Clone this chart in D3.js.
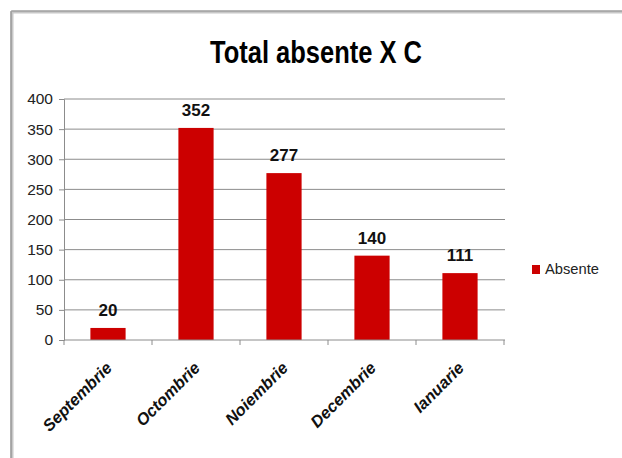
<!DOCTYPE html>
<html><head><meta charset="utf-8">
<script src="https://cdn.jsdelivr.net/npm/d3@7"></script>
<style>body{margin:0;background:#fff}svg{display:block}</style>
</head><body>
<script>
const categories = ["Septembrie","Octombrie","Noiembrie","Decembrie","Ianuarie"];
const values = [20,352,277,140,111];
const yTicks = [0,50,100,150,200,250,300,350,400];
const seriesName = "Absente";
const titleText = "Total absente X C";

const W = 622, H = 458;
const svg = d3.select("body").append("svg").attr("width", W).attr("height", H);

// frame
svg.append("line").attr("x1",12).attr("x2",W).attr("y1",12).attr("y2",12).attr("stroke","#c8c8c8").attr("stroke-width",3);
svg.append("line").attr("x1",12).attr("x2",12).attr("y1",12).attr("y2",H).attr("stroke","#c8c8c8").attr("stroke-width",3);
svg.append("line").attr("x1",11).attr("x2",W).attr("y1",11).attr("y2",11).attr("stroke","#8a8a8a").attr("stroke-width",1.2);
svg.append("line").attr("x1",11).attr("x2",11).attr("y1",11).attr("y2",H).attr("stroke","#8a8a8a").attr("stroke-width",1.2);

const x = d3.scaleBand().domain(categories).range([64,504]).paddingInner(0.6).paddingOuter(0.3);
const y = d3.scaleLinear().domain([0,400]).range([340,99]);

// gridlines
svg.append("g").selectAll("line").data(yTicks.filter(d=>d>0)).join("line")
  .attr("x1",64).attr("x2",505).attr("y1",d=>y(d)).attr("y2",d=>y(d))
  .attr("stroke","#8c8c8c").attr("stroke-width",1);

// bars
svg.append("g").selectAll("rect").data(values).join("rect")
  .attr("x",(d,i)=>x(categories[i])).attr("width",x.bandwidth())
  .attr("y",d=>y(d)).attr("height",d=>y(0)-y(d))
  .attr("fill","#cc0000");

// y axis
const yAxis = d3.axisLeft(y).tickValues(yTicks).tickSize(5).tickPadding(6);
const gy = svg.append("g").attr("transform","translate(64,0)").call(yAxis);
gy.select(".domain").attr("stroke","#8c8c8c");
gy.selectAll(".tick line").attr("stroke","#8c8c8c");
gy.selectAll("text").attr("font-family","Liberation Sans, Arial, sans-serif")
  .attr("font-size",15.5).attr("fill","#222");

// x axis
const xOuter = d3.scalePoint().domain(d3.range(categories.length+1)).range([64,504]);
svg.append("line").attr("x1",64).attr("x2",505).attr("y1",340).attr("y2",340).attr("stroke","#8c8c8c");
svg.append("g").selectAll("line").data(d3.range(categories.length+1)).join("line")
  .attr("x1",d=>xOuter(d)).attr("x2",d=>xOuter(d)).attr("y1",340).attr("y2",345).attr("stroke","#8c8c8c");

svg.append("g").selectAll("text").data(categories).join("text")
  .attr("transform",d=>`translate(${x(d)+x.bandwidth()/2+5},${369}) rotate(-45)`)
  .attr("text-anchor","end")
  .attr("font-family","Liberation Sans, Arial, sans-serif")
  .attr("font-weight","bold").attr("font-style","italic")
  .attr("font-size",16.5).attr("fill","#111")
  .text(d=>d);

// data labels
svg.append("g").selectAll("text").data(values).join("text")
  .attr("x",(d,i)=>x(categories[i])+x.bandwidth()/2)
  .attr("y",d=>y(d)-12)
  .attr("text-anchor","middle")
  .attr("font-family","Liberation Sans, Arial, sans-serif")
  .attr("font-weight","bold").attr("font-size",17).attr("fill","#111")
  .text(d=>d);

// title
svg.append("text").attr("x",210).attr("y",63)
  .attr("font-family","Liberation Sans, Arial, sans-serif")
  .attr("font-weight","bold").attr("font-size",31).attr("fill","#000")
  .attr("textLength",212).attr("lengthAdjust","spacingAndGlyphs")
  .text(titleText);

// legend
svg.append("rect").attr("x",532).attr("y",265).attr("width",8).attr("height",9).attr("fill","#cc0000");
svg.append("text").attr("x",545).attr("y",274)
  .attr("font-family","Liberation Sans, Arial, sans-serif")
  .attr("font-size",15).attr("fill","#222")
  .attr("textLength",54).attr("lengthAdjust","spacingAndGlyphs")
  .text(seriesName);
</script>
</body></html>
